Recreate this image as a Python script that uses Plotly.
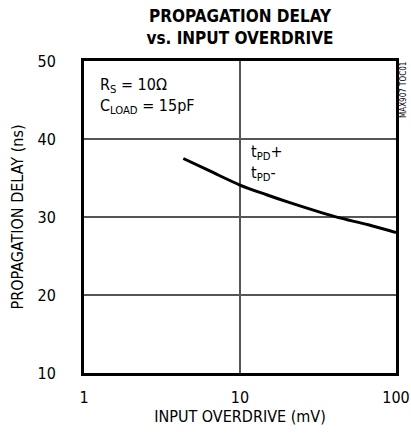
import plotly.graph_objects as go

# Data
overdrive_mv = [4.33, 6.4, 10, 14.8, 20.4, 40.6, 66.4, 100]
delay_ns = [37.5, 35.9, 34.1, 32.85, 31.9, 30.05, 29.0, 28.0]

x_tickvals = [1, 10, 100]
x_ticktext = ["1", "10", "100"]
y_tickvals = [10, 20, 30, 40, 50]
y_ticktext = ["10", "20", "30", "40", "50"]

FONT = "Liberation Sans Narrow, DejaVu Sans Condensed, Arial Narrow, sans-serif"

fig = go.Figure()
fig.add_trace(go.Scatter(
    x=overdrive_mv, y=delay_ns, mode="lines",
    line=dict(color="black", width=3, shape="spline", smoothing=1.0),
    showlegend=False, hoverinfo="skip",
))

fig.update_layout(
    width=411, height=433,
    margin=dict(l=84, r=15, t=61, b=60, autoexpand=False),
    paper_bgcolor="white", plot_bgcolor="white",
    font=dict(family=FONT, size=16, color="black"),
    title=dict(
        text="<b>PROPAGATION DELAY<br>vs. INPUT OVERDRIVE</b>",
        x=(84 + 396) / 2 / 411, xanchor="center",
        y=1 - 21.5 / 433, yanchor="middle",
        font=dict(family=FONT, size=17, color="black"),
    ),
)

fig.update_xaxes(
    type="log", range=[0, 2],
    tickvals=x_tickvals, ticktext=x_ticktext,
    showgrid=True, gridcolor="#555555", gridwidth=1.5,
    showline=True, linecolor="black", linewidth=3, mirror=True,
    ticks="", ticklabelstandoff=8, automargin=False,
    title=dict(text="INPUT OVERDRIVE (mV)", standoff=4, font=dict(size=16)),
    zeroline=False,
)
fig.update_yaxes(
    range=[10, 50],
    tickvals=y_tickvals, ticktext=y_ticktext,
    showgrid=True, gridcolor="#555555", gridwidth=1.5,
    showline=True, linecolor="black", linewidth=3, mirror=True,
    ticks="", ticklabelstandoff=22, automargin=False,
    title=dict(text="PROPAGATION DELAY (ns)", standoff=10, font=dict(size=16)),
    zeroline=False,
)

fig.add_annotation(
    text="R<sub>S</sub> = 10Ω<br>C<sub>LOAD</sub> = 15pF",
    xref="paper", yref="paper", x=(98 - 84) / 312, y=1 - (73 - 61) / 312,
    xanchor="left", yanchor="top", align="left", showarrow=False,
    font=dict(family=FONT, size=16, color="black"),
)
fig.add_annotation(
    text="t<sub>PD</sub>+<br>t<sub>PD</sub>-",
    xref="paper", yref="paper", x=(249 - 84) / 312, y=1 - (140 - 61) / 312,
    xanchor="left", yanchor="top", align="left", showarrow=False,
    font=dict(family=FONT, size=16, color="black"),
)
fig.add_annotation(
    text="MAX907 TOC01",
    xref="paper", yref="paper", x=(403 - 84) / 312, y=1 - (90 - 61) / 312,
    xanchor="center", yanchor="middle", textangle=-90, showarrow=False,
    font=dict(family=FONT, size=8, color="black"),
)

fig.write_html(
    "out.html",
    config={"displayModeBar": False},
    post_script="document.body.style.margin='0';document.body.style.overflow='hidden';",
)
